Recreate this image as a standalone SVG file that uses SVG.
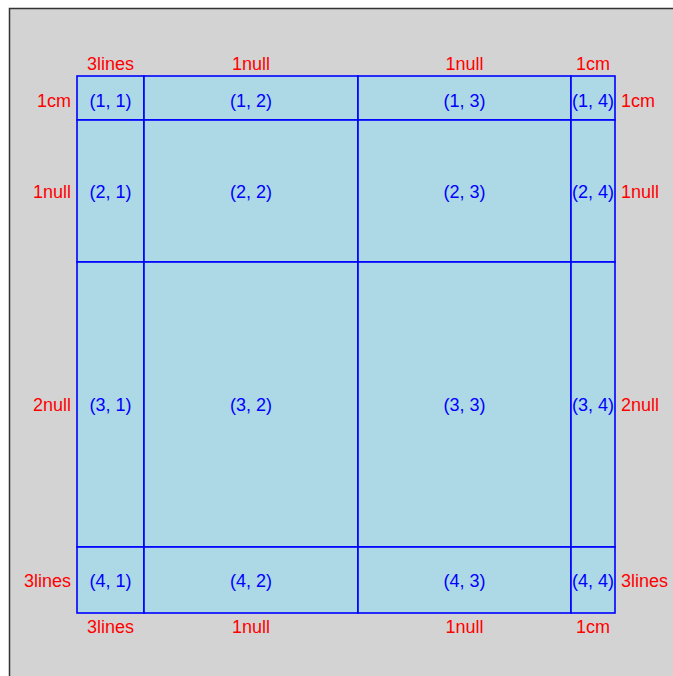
<svg xmlns="http://www.w3.org/2000/svg" width="673" height="676" viewBox="0 0 673 676">
<style>
.cell{fill:#ADD8E6;stroke:#0000FF;stroke-width:1.6}
.ct{font-family:"Liberation Sans",Arial,sans-serif;font-size:18px;fill:#0000FF;text-anchor:middle}
.lb{font-family:"Liberation Sans",Arial,sans-serif;font-size:18px;fill:#FF0000}
.m{text-anchor:middle}.e{text-anchor:end}.s{text-anchor:start}
</style>
<rect x="0" y="0" width="673" height="676" fill="#FFFFFF"/>
<rect x="9.5" y="8.5" width="680" height="680" fill="#D3D3D3" stroke="#333333" stroke-width="1.5"/>
<g id="cells">
<g id="c11"><rect class="cell" x="77" y="76" width="67" height="44"/><text class="ct" x="110.5" y="106.5">(1, 1)</text></g>
<g id="c12"><rect class="cell" x="144" y="76" width="214" height="44"/><text class="ct" x="251" y="106.5">(1, 2)</text></g>
<g id="c13"><rect class="cell" x="358" y="76" width="213" height="44"/><text class="ct" x="464.5" y="106.5">(1, 3)</text></g>
<g id="c14"><rect class="cell" x="571" y="76" width="44" height="44"/><text class="ct" x="593" y="106.5">(1, 4)</text></g>
<g id="c21"><rect class="cell" x="77" y="120" width="67" height="142"/><text class="ct" x="110.5" y="197.5">(2, 1)</text></g>
<g id="c22"><rect class="cell" x="144" y="120" width="214" height="142"/><text class="ct" x="251" y="197.5">(2, 2)</text></g>
<g id="c23"><rect class="cell" x="358" y="120" width="213" height="142"/><text class="ct" x="464.5" y="197.5">(2, 3)</text></g>
<g id="c24"><rect class="cell" x="571" y="120" width="44" height="142"/><text class="ct" x="593" y="197.5">(2, 4)</text></g>
<g id="c31"><rect class="cell" x="77" y="262" width="67" height="285"/><text class="ct" x="110.5" y="411">(3, 1)</text></g>
<g id="c32"><rect class="cell" x="144" y="262" width="214" height="285"/><text class="ct" x="251" y="411">(3, 2)</text></g>
<g id="c33"><rect class="cell" x="358" y="262" width="213" height="285"/><text class="ct" x="464.5" y="411">(3, 3)</text></g>
<g id="c34"><rect class="cell" x="571" y="262" width="44" height="285"/><text class="ct" x="593" y="411">(3, 4)</text></g>
<g id="c41"><rect class="cell" x="77" y="547" width="67" height="66"/><text class="ct" x="110.5" y="586.5">(4, 1)</text></g>
<g id="c42"><rect class="cell" x="144" y="547" width="214" height="66"/><text class="ct" x="251" y="586.5">(4, 2)</text></g>
<g id="c43"><rect class="cell" x="358" y="547" width="213" height="66"/><text class="ct" x="464.5" y="586.5">(4, 3)</text></g>
<g id="c44"><rect class="cell" x="571" y="547" width="44" height="66"/><text class="ct" x="593" y="586.5">(4, 4)</text></g>
</g>
<g id="labels">
<text class="lb m" x="110.5" y="70">3lines</text>
<text class="lb m" x="251" y="70">1null</text>
<text class="lb m" x="464.5" y="70">1null</text>
<text class="lb m" x="593" y="70">1cm</text>
<text class="lb m" x="110.5" y="633">3lines</text>
<text class="lb m" x="251" y="633">1null</text>
<text class="lb m" x="464.5" y="633">1null</text>
<text class="lb m" x="593" y="633">1cm</text>
<text class="lb e" x="71" y="106.5">1cm</text>
<text class="lb e" x="71" y="197.5">1null</text>
<text class="lb e" x="71" y="411">2null</text>
<text class="lb e" x="71" y="586.5">3lines</text>
<text class="lb s" x="621" y="106.5">1cm</text>
<text class="lb s" x="621" y="197.5">1null</text>
<text class="lb s" x="621" y="411">2null</text>
<text class="lb s" x="621" y="586.5">3lines</text>
</g>
</svg>
